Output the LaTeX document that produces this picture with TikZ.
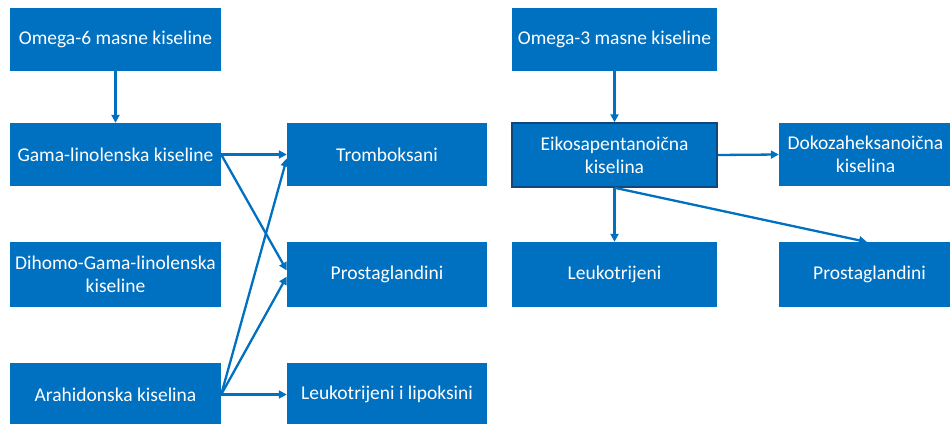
\documentclass[tikz,border=0pt]{standalone}
\usepackage{fontspec}
\setmainfont{Carlito}
\usetikzlibrary{arrows.meta,calc}
\definecolor{boxblue}{RGB}{0,112,192}
\definecolor{edgeblue}{RGB}{20,70,120}
\begin{document}
\begin{tikzpicture}[x=1pt,y=-1pt,
  bx/.style={fill=boxblue,draw=none,text=white,inner sep=0pt,align=center,
    font=\fontsize{19.5}{23}\selectfont},
  conn/.style={draw=boxblue,line width=2.3pt,-{Triangle[length=8pt,width=8pt]}}]
\useasboundingbox (0,0) rectangle (950,423);
\newcommand{\mybox}[6]{\node[bx,minimum width=#4-#2,minimum height=#5-#3] (#1) at ({(#2+#4)/2},{(#3+#5)/2}) {#6};}
\mybox{om6}{10}{8}{221}{71}{Omega-6 masne kiseline}
\mybox{gama}{10}{123}{221}{186}{Gama-linolenska kiseline}
\mybox{dihomo}{10}{242}{221}{307}{Dihomo-Gama-linolenska\\kiseline}
\mybox{arah}{10}{363}{221}{426}{Arahidonska kiselina}
\mybox{trom}{287}{123}{487}{186}{Tromboksani}
\mybox{prostL}{287}{242}{487}{307}{Prostaglandini}
\mybox{leulip}{287}{363}{487}{426}{Leukotrijeni i lipoksini}
\mybox{om3}{512}{8}{717}{71}{Omega-3 masne kiseline}
\node[bx,draw=edgeblue,line width=1.5pt,minimum width=205,minimum height=64] (eiko) at (614.5,155) {Eikosapentanoična\\kiselina};
\mybox{doko}{779}{123}{952}{186}{Dokozaheksanoična\\kiselina}
\mybox{leuk}{512}{242}{717}{307}{Leukotrijeni}
\mybox{prostR}{779}{242}{960}{307}{Prostaglandini}
\coordinate (prRtop) at (867,242);
\draw[conn] (om6.south) -- (gama.north);
\draw[conn] (gama.east) -- (trom.west);
\draw[conn] (gama.east) -- ($(prostL.west)+(0,-4)$);
\draw[conn] (arah.east) -- ($(trom.west)+(0,4)$);
\draw[conn] (arah.east) -- ($(prostL.west)+(0,2)$);
\draw[conn] (arah.east) -- (leulip.west);
\draw[conn] (om3.south) -- (eiko.north);
\draw[conn] (eiko.east) -- (doko.west);
\draw[conn] (eiko.south) -- (leuk.north);
\draw[conn] (eiko.south) -- (prRtop);
\end{tikzpicture}
\end{document}
